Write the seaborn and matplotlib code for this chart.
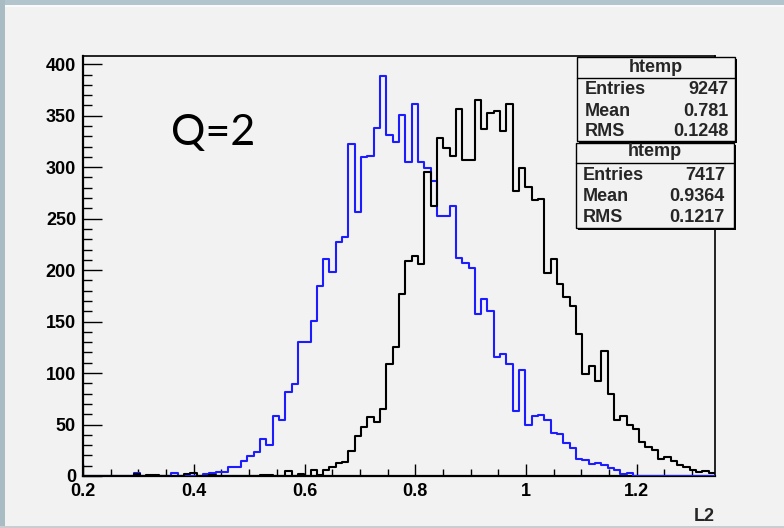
import numpy as np
import pandas as pd
import matplotlib
matplotlib.use("Agg")
import matplotlib.pyplot as plt
import matplotlib.ticker as mticker
from matplotlib.patches import Rectangle
from matplotlib.lines import Line2D
import seaborn as sns

# Binning of the L2 histograms
x_min, x_max, n_bins = 0.2, 1.3413, 100

# Counts per bin for the two samples
counts_blue = [
    0, 0, 0, 0, 0, 0, 0, 0, 3, 0,
    0, 0, 0, 0, 3, 0, 0, 0, 0, 2,
    3, 4, 4, 9, 9, 15, 19, 23, 36, 30,
    58, 54, 82, 89, 130, 130, 151, 185, 211, 198,
    227, 232, 323, 256, 310, 311, 338, 389, 331, 324,
    351, 305, 361, 305, 299, 287, 253, 253, 262, 212,
    207, 202, 157, 172, 160, 116, 119, 109, 63, 103,
    50, 58, 59, 54, 42, 41, 32, 27, 17, 16,
    12, 13, 11, 8, 6, 2, 3, 0, 0, 0,
    0, 0, 0, 0, 0, 0, 0, 0, 0, 0,
]
counts_black = [
    0, 0, 0, 0, 0, 0, 0, 0, 2, 0,
    1, 1, 0, 0, 0, 0, 2, 3, 0, 0,
    1, 0, 0, 0, 0, 0, 0, 0, 1, 1,
    0, 0, 5, 0, 2, 0, 6, 1, 6, 9,
    13, 14, 24, 39, 48, 57, 52, 65, 109, 125,
    177, 209, 214, 206, 295, 262, 328, 319, 311, 357,
    307, 307, 365, 337, 353, 355, 335, 361, 277, 299,
    281, 268, 269, 197, 211, 187, 174, 165, 138, 99,
    107, 92, 121, 80, 54, 58, 50, 46, 33, 28,
    25, 17, 18, 15, 11, 9, 6, 4, 5, 3,
]

x_ticks = [0.2, 0.4, 0.6, 0.8, 1.0, 1.2]
x_tick_labels = ["0.2", "0.4", "0.6", "0.8", "1", "1.2"]
y_ticks = [0, 50, 100, 150, 200, 250, 300, 350, 400]

stats_blue = [("Entries", "9247"), ("Mean", "0.781"), ("RMS", "0.1248")]
stats_black = [("Entries", "7417"), ("Mean", "0.9364"), ("RMS", "0.1217")]

edges = np.linspace(x_min, x_max, n_bins + 1)
centers = 0.5 * (edges[:-1] + edges[1:])
df = pd.DataFrame({
    "L2": np.concatenate([centers, centers]),
    "n": counts_blue + counts_black,
    "sample": ["blue"] * n_bins + ["black"] * n_bins,
})

sns.set_theme(style="ticks")
plt.rcParams["font.family"] = ["Liberation Sans", "DejaVu Sans"]
bg = "#f2f2f2"

W, H = 784, 528
fig = plt.figure(figsize=(W / 100, H / 100), dpi=100, facecolor=bg)


def fx(x):
    return x / W


def fy(y):
    return 1 - y / H


ax = fig.add_axes([fx(83), fy(476), fx(715) - fx(83), fy(56) - fy(476)])
ax.set_facecolor(bg)

for name, color in [("blue", "#1c1cff"), ("black", "black")]:
    sns.histplot(data=df[df["sample"] == name], x="L2", weights="n",
                 bins=n_bins, binrange=(x_min, x_max),
                 element="step", fill=False, color=color, linewidth=1.5,
                 ax=ax, zorder=3)

ax.set_xlim(x_min, x_max)
ax.set_ylim(0, 408)
ax.set_ylabel("")
ax.set_xlabel("L2", loc="right", fontsize=13, fontweight="bold", labelpad=6)

ax.set_xticks(x_ticks)
ax.set_xticklabels(x_tick_labels)
ax.xaxis.set_minor_locator(mticker.MultipleLocator(0.05))
ax.set_yticks(y_ticks)
ax.yaxis.set_minor_locator(mticker.MultipleLocator(10))

for lab in ax.get_xticklabels() + ax.get_yticklabels():
    lab.set_fontweight("bold")
    lab.set_fontsize(13)

ax.tick_params(axis="x", which="major", direction="in", length=8.6, width=1,
               color="black", pad=5, labelcolor="black")
ax.tick_params(axis="x", which="minor", direction="in", length=5, width=1,
               color="black")
ax.tick_params(axis="y", which="major", direction="in", length=13.5, width=1,
               color="black", pad=5, labelcolor="black")
ax.tick_params(axis="y", which="minor", direction="in", length=6.5, width=1,
               color="black")

for side, sp in ax.spines.items():
    sp.set_visible(True)
    sp.set_color("black")
    sp.set_linewidth(1.6 if side in ("left", "bottom") else 1.2)

# Window frame strips
fig.add_artist(Rectangle((0, fy(5)), 1, fy(0) - fy(5), transform=fig.transFigure,
                         facecolor="#b3c5cc", edgecolor="none", zorder=0))
fig.add_artist(Rectangle((0, fy(7)), 1, fy(5) - fy(7), transform=fig.transFigure,
                         facecolor="#fafafa", edgecolor="none", zorder=0))
fig.add_artist(Rectangle((0, 0), fx(5), 1, transform=fig.transFigure,
                         facecolor="#a9bcc4", edgecolor="none", zorder=0))
fig.add_artist(Rectangle((0, 0), 1, fy(526), transform=fig.transFigure,
                         facecolor="#c9cdd0", edgecolor="none", zorder=0))


def stat_box(x0, y0, x1, y1, ydiv, title_y, row_ys, left_x, right_x, rows):
    # drop shadow
    fig.add_artist(Rectangle((fx(x0 + 2), fy(y1 + 2)), fx(x1) - fx(x0), fy(y0) - fy(y1),
                             transform=fig.transFigure, facecolor="black",
                             edgecolor="none", zorder=4))
    fig.add_artist(Rectangle((fx(x0), fy(y1)), fx(x1) - fx(x0), fy(y0) - fy(y1),
                             transform=fig.transFigure, facecolor=bg,
                             edgecolor="black", linewidth=1, zorder=5))
    fig.add_artist(Line2D([fx(x0), fx(x1)], [fy(ydiv), fy(ydiv)],
                          transform=fig.transFigure, color="black", linewidth=1,
                          zorder=6))
    fig.text(fx((x0 + x1) / 2), fy(title_y), "htemp", ha="center", va="center",
             fontsize=13, fontweight="bold", zorder=7)
    for (lab, val), yy in zip(rows, row_ys):
        fig.text(fx(left_x), fy(yy), lab, ha="left", va="center",
                 fontsize=13, fontweight="bold", zorder=7)
        fig.text(fx(right_x), fy(yy), val, ha="right", va="center",
                 fontsize=13, fontweight="bold", zorder=7)


stat_box(577, 57, 735, 141, 78, 67, [90, 111.5, 131.5], 585, 728, stats_blue)
stat_box(576, 143, 734, 228, 163, 152, [175, 196.5, 218], 583, 725, stats_black)

fig.text(fx(171), fy(133), "Q=2", ha="left", va="center", fontsize=31,
         family=["Lato", "DejaVu Sans"], color="black")

fig.savefig("out.png", dpi=100, facecolor=bg)
